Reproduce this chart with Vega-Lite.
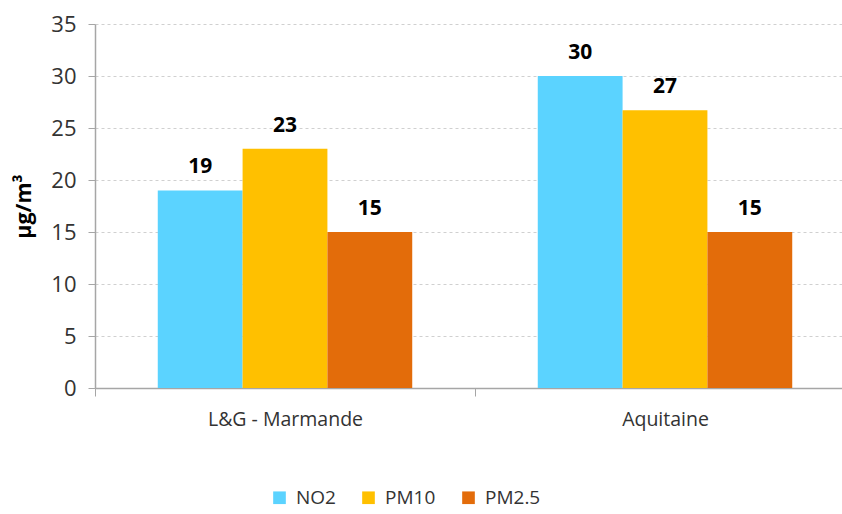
{
  "$schema": "https://vega.github.io/schema/vega-lite/v6.json",
  "autosize": "none",
  "padding": {"left": 95, "top": 24, "right": 0, "bottom": 126},
  "width": 760,
  "height": 364,
  "background": "white",
  "config": {
    "view": {"stroke": null},
    "font": "Open Sans"
  },
  "data": {
    "values": [
      {"site": "L&G - Marmande", "polluant": "NO2", "valeur": 19},
      {"site": "L&G - Marmande", "polluant": "PM10", "valeur": 23},
      {"site": "L&G - Marmande", "polluant": "PM2.5", "valeur": 15},
      {"site": "Aquitaine", "polluant": "NO2", "valeur": 30},
      {"site": "Aquitaine", "polluant": "PM10", "valeur": 26.7},
      {"site": "Aquitaine", "polluant": "PM2.5", "valeur": 15}
    ]
  },
  "encoding": {
    "x": {
      "field": "site",
      "type": "nominal",
      "sort": ["L&G - Marmande", "Aquitaine"],
      "scale": {"paddingInner": 0, "paddingOuter": 0},
      "axis": {
        "title": null,
        "labelAngle": 0,
        "labelFontSize": 19.5,
        "labelColor": "#333333",
        "labelPadding": 14,
        "tickBand": "extent",
        "tickSize": 8,
        "tickColor": "#A6A6A6",
        "domainColor": "#A6A6A6",
        "domainWidth": 1.5,
        "grid": false
      }
    },
    "xOffset": {
      "field": "polluant",
      "type": "nominal",
      "sort": ["NO2", "PM10", "PM2.5"],
      "scale": {"paddingInner": 0, "paddingOuter": 0.74}
    },
    "y": {
      "field": "valeur",
      "type": "quantitative",
      "scale": {"domain": [0, 35]},
      "axis": {
        "title": "µg/m³",
        "titleFontSize": 21.5,
        "titleFontWeight": "bold",
        "titleColor": "#000000",
        "titlePadding": 15,
        "values": [0, 5, 10, 15, 20, 25, 30, 35],
        "labelFontSize": 22,
        "labelColor": "#333333",
        "labelPadding": 12,
        "tickSize": 7,
        "tickColor": "#A6A6A6",
        "domainColor": "#A6A6A6",
        "domainWidth": 1.5,
        "gridColor": "#D0D0D0",
        "gridDash": [3, 3],
        "gridWidth": 1
      }
    }
  },
  "layer": [
    {
      "mark": {"type": "bar"},
      "encoding": {
        "color": {
          "field": "polluant",
          "type": "nominal",
          "sort": ["NO2", "PM10", "PM2.5"],
          "scale": {"domain": ["NO2", "PM10", "PM2.5"], "range": ["#5BD3FF", "#FFC000", "#E36C0A"]},
          "legend": {
            "title": null,
            "orient": "none",
            "direction": "horizontal",
            "legendX": 175,
            "legendY": 464,
            "symbolType": "square",
            "symbolSize": 160,
            "symbolOpacity": 1,
            "symbolStrokeWidth": 0,
            "labelFontSize": 19,
            "labelColor": "#333333",
            "labelOffset": 7,
            "columnPadding": 23
          }
        }
      }
    },
    {
      "mark": {"type": "text", "baseline": "bottom", "dy": -13, "fontSize": 21, "fontWeight": "bold", "color": "#000000"},
      "encoding": {
        "text": {"field": "valeur", "type": "quantitative", "format": ".0f"}
      }
    }
  ]
}
